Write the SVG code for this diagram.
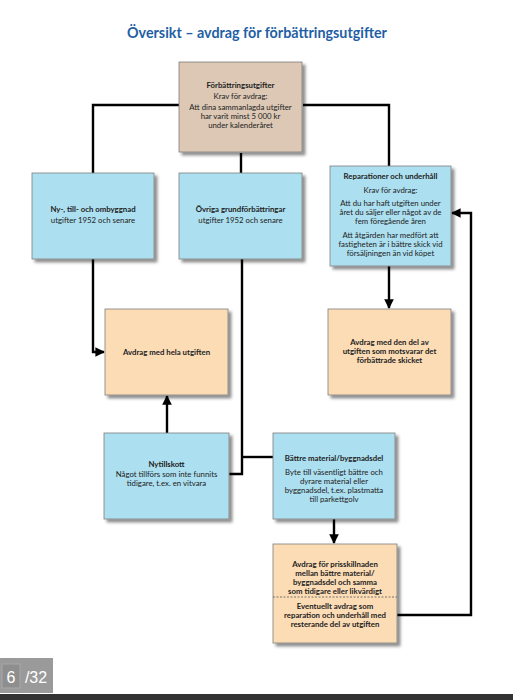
<svg xmlns="http://www.w3.org/2000/svg" width="513" height="700" viewBox="0 0 513 700">
<defs>
<style>
.box{stroke:#7d7d7d;stroke-width:0.8;filter:url(#sh)}
.blue{fill:#acdff0}
.org{fill:#fcdcb5}
.tan{fill:#dcc8b5}
text{font-family:Lato,"Noto Sans","DejaVu Sans",sans-serif;font-size:7.8px;fill:#222;text-anchor:middle}
.b{font-weight:bold}
.ln{fill:none;stroke:#000;stroke-width:2.4}
</style>
<filter id="sh" x="-10%" y="-10%" width="130%" height="130%">
<feDropShadow dx="3" dy="3" stdDeviation="1.8" flood-color="#000" flood-opacity="0.45"/>
</filter>
<marker id="ar" viewBox="0 0 10 10" refX="9" refY="5" markerWidth="4" markerHeight="4" orient="auto" markerUnits="strokeWidth">
<path d="M0,0 L10,5 L0,10 Z" fill="#000"/>
</marker>
</defs>
<rect width="513" height="700" fill="#fff"/>
<text x="257" y="38" style="font-size:14.3px;font-weight:bold;fill:#1f5fa5">Översikt – avdrag för förbättringsutgifter</text>

<g id="connectors">
<path class="ln" d="M179,105 H93 V173"/>
<path class="ln" d="M303,105 H389 V166"/>
<path class="ln" d="M241,153 V173"/>
<path class="ln" d="M93,259 V352 H104" marker-end="url(#ar)"/>
<path class="ln" d="M389,266 V308" marker-end="url(#ar)"/>
<path class="ln" d="M242,259 V474 H229"/>
<path class="ln" d="M242,457 H273"/>
<path class="ln" d="M167,433 V396" marker-end="url(#ar)"/>
<path class="ln" d="M334,519 V543" marker-end="url(#ar)"/>
<path class="ln" d="M397,615 H471 V213 H452" marker-end="url(#ar)"/>
</g>

<g id="n-forbattring">
<rect class="box tan" x="179" y="62" width="123" height="90"/>
<text class="b" x="240.5" y="88">Förbättringsutgifter</text>
<text x="240.5" y="99">Krav för avdrag:</text>
<text x="240.5" y="110">Att dina sammanlagda utgifter</text>
<text x="240.5" y="119">har varit minst 5 000 kr</text>
<text x="240.5" y="128">under kalenderåret</text>
</g>

<g id="n-nybyggnad">
<rect class="box blue" x="32" y="173" width="122" height="86"/>
<text class="b" x="93" y="212">Ny-, till- och ombyggnad</text>
<text x="93" y="223">utgifter 1952 och senare</text>
</g>

<g id="n-ovriga">
<rect class="box blue" x="179" y="173" width="123" height="86"/>
<text class="b" x="240.5" y="212">Övriga grundförbättringar</text>
<text x="240.5" y="223">utgifter 1952 och senare</text>
</g>

<g id="n-reparation">
<rect class="box blue" x="330" y="166" width="121" height="100"/>
<text class="b" x="390.5" y="179">Reparationer och underhåll</text>
<text x="390.5" y="193">Krav för avdrag:</text>
<text x="390.5" y="206">Att du har haft utgiften under</text>
<text x="390.5" y="215">året du säljer eller något av de</text>
<text x="390.5" y="224">fem föregående åren</text>
<text x="390.5" y="238">Att åtgärden har medfört att</text>
<text x="390.5" y="247">fastigheten är i bättre skick vid</text>
<text x="390.5" y="256">försäljningen än vid köpet</text>
</g>

<g id="n-hela">
<rect class="box org" x="105" y="309" width="123" height="86"/>
<text class="b" x="166.5" y="355">Avdrag med hela utgiften</text>
</g>

<g id="n-del">
<rect class="box org" x="328" y="309" width="123" height="86"/>
<text class="b" x="389.5" y="345">Avdrag med den del av</text>
<text class="b" x="389.5" y="354">utgiften som motsvarar det</text>
<text class="b" x="389.5" y="363">förbättrade skicket</text>
</g>

<g id="n-nytillskott">
<rect class="box blue" x="104" y="433" width="125" height="86"/>
<text class="b" x="166.5" y="467">Nytillskott</text>
<text x="166.5" y="477">Något tillförs som inte funnits</text>
<text x="166.5" y="486">tidigare, t.ex. en vitvara</text>
</g>

<g id="n-battre">
<rect class="box blue" x="273" y="433" width="122" height="86"/>
<text class="b" x="334" y="461">Bättre material/byggnadsdel</text>
<text x="334" y="475">Byte till väsentligt bättre och</text>
<text x="334" y="484">dyrare material eller</text>
<text x="334" y="493">byggnadsdel, t.ex. plastmatta</text>
<text x="334" y="502">till parkettgolv</text>
</g>

<g id="n-prisskillnad">
<rect class="box org" x="273" y="544" width="124" height="99"/>
<line x1="273" y1="597" x2="397" y2="597" stroke="#555" stroke-width="0.8" stroke-dasharray="2,1.5"/>
<text class="b" x="335" y="567">Avdrag för prisskillnaden</text>
<text class="b" x="335" y="576">mellan bättre material/</text>
<text class="b" x="335" y="585">byggnadsdel och samma</text>
<text class="b" x="335" y="594">som tidigare eller likvärdigt</text>
<text class="b" x="335" y="609">Eventuellt avdrag som</text>
<text class="b" x="335" y="618">reparation och underhåll med</text>
<text class="b" x="335" y="627">resterande del av utgiften</text>
</g>

<g id="pager">
<rect x="0" y="658" width="53" height="35" fill="#9a9a9a"/>
<rect x="2" y="664" width="18" height="24" fill="#8e8e8e" stroke="#a8a8a8" stroke-width="1"/>
<text x="11" y="683" style="font-family:'Liberation Sans',Arial,sans-serif;font-size:16px;fill:#fff">6</text>
<text x="36" y="683" style="font-family:'Liberation Sans',Arial,sans-serif;font-size:16px;fill:#fff">/32</text>
<rect x="0" y="694" width="513" height="6" fill="#333"/>
</g>
</svg>
